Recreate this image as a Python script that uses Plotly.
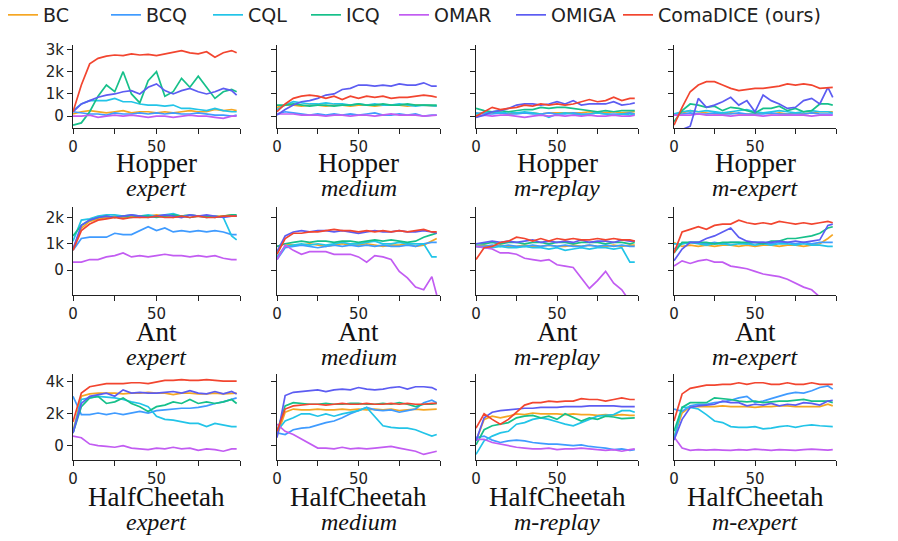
import plotly.graph_objects as go

# training steps (x) shared by every panel
STEPS = [0, 5, 10, 15, 20, 25, 30, 35, 40, 45, 50, 55, 60, 65, 70, 75, 80, 85, 90, 95, 98]

METHODS = ["BC", "BCQ", "CQL", "ICQ", "OMAR", "OMIGA", "ComaDICE (ours)"]
COLORS = ["#f5a623", "#3f9bff", "#22c4e8", "#16c08a", "#c25cf2", "#5c5cf2", "#f2452f"]

ENVS = ["Hopper", "Ant", "HalfCheetah"]
DATASETS = ["expert", "medium", "m-replay", "m-expert"]

# returns in thousands
# ---------------- Hopper ----------------
hop_exp_BC = [0.1,0.2,0.25,0.2,0.15,0.2,0.25,0.15,0.2,0.2,0.15,0.2,0.15,0.2,0.25,0.2,0.2,0.3,0.25,0.3,0.25]
hop_exp_BCQ = [0.2,0.15,0.1,0.1,0.05,0.15,0.1,0.1,0.15,0.1,0.15,0.1,0.15,0.1,0.1,0.15,0.1,0.05,0.05,0.0,0.05]
hop_exp_CQL = [0.25,0.55,0.7,0.7,0.7,0.8,0.65,0.65,0.55,0.5,0.5,0.45,0.5,0.35,0.35,0.3,0.25,0.35,0.25,0.2,0.2]
hop_exp_ICQ = [-0.4,-0.3,0.2,0.9,1.4,1.1,2.0,1.0,0.6,1.6,2.0,0.9,1.1,1.7,1.3,1.8,1.3,0.8,1.1,1.2,1.1]
hop_exp_OMAR = [0.0,0.0,0.05,-0.05,0.0,0.05,0.0,0.05,0.0,-0.05,0.0,0.0,-0.05,0.0,0.05,0.0,0.0,-0.05,-0.1,0.0,0.0]
hop_exp_OMIGA = [0.2,0.55,0.7,0.85,0.95,1.0,1.1,1.15,1.0,1.3,1.45,1.15,1.0,1.15,1.25,1.1,1.0,1.1,1.25,1.15,0.95]
hop_exp_COMA = [0.2,1.4,2.35,2.6,2.7,2.75,2.72,2.8,2.75,2.78,2.72,2.8,2.85,2.95,2.85,2.8,2.9,2.65,2.85,2.95,2.85]

hop_med_BC = [0.4,0.5,0.5,0.45,0.5,0.5,0.45,0.5,0.5,0.45,0.5,0.5,0.45,0.5,0.5,0.5,0.45,0.5,0.5,0.45,0.45]
hop_med_BCQ = [0.1,0.2,0.15,0.1,0.05,0.1,0.05,0.1,0.05,0.1,0.05,0.1,0.15,0.05,0.05,0.1,0.05,0.1,0.0,0.05,0.05]
hop_med_CQL = [0.3,0.5,0.65,0.6,0.55,0.55,0.6,0.55,0.55,0.5,0.55,0.5,0.55,0.5,0.5,0.55,0.5,0.45,0.5,0.45,0.45]
hop_med_ICQ = [0.5,0.5,0.55,0.5,0.45,0.5,0.5,0.45,0.5,0.5,0.55,0.5,0.5,0.55,0.5,0.5,0.55,0.5,0.5,0.5,0.5]
hop_med_OMAR = [0.1,0.1,0.1,0.05,0.05,0.05,0.0,0.05,0.05,0.0,0.05,0.05,0.0,0.05,0.1,0.05,0.05,0.05,0.0,0.05,0.05]
hop_med_OMIGA = [0.05,0.3,0.5,0.65,0.7,0.8,0.95,1.0,1.2,1.25,1.4,1.4,1.35,1.4,1.35,1.45,1.4,1.4,1.5,1.35,1.35]
hop_med_COMA = [0.2,0.55,0.8,0.9,0.95,0.9,0.8,0.9,0.75,0.9,0.8,0.9,0.85,0.9,0.8,0.85,0.85,0.9,0.95,0.9,0.85]

hop_rep_BC = [0.1,0.15,0.15,0.15,0.1,0.15,0.15,0.15,0.1,0.15,0.15,0.15,0.15,0.15,0.2,0.15,0.15,0.2,0.15,0.2,0.2]
hop_rep_BCQ = [0.15,0.1,0.1,0.15,0.1,0.1,0.15,0.1,0.1,0.15,0.1,0.1,0.15,0.1,0.1,0.15,0.1,0.1,0.1,0.15,0.1]
hop_rep_CQL = [0.1,0.15,0.2,0.15,0.2,0.15,0.2,0.15,0.1,-0.05,0.1,0.15,0.1,0.05,0.1,0.15,0.1,0.05,0.1,0.05,0.1]
hop_rep_ICQ = [0.35,0.25,0.2,0.25,0.2,0.25,0.3,0.3,0.4,0.35,0.4,0.4,0.35,0.3,0.25,0.2,0.25,0.2,0.25,0.25,0.25]
hop_rep_OMAR = [0.0,0.05,0.0,0.05,0.05,0.0,-0.05,0.0,0.05,0.0,0.05,0.0,0.05,0.0,0.05,0.0,0.0,0.05,0.0,0.0,0.05]
hop_rep_OMIGA = [-0.05,0.05,0.2,0.25,0.35,0.5,0.55,0.55,0.5,0.55,0.65,0.55,0.7,0.5,0.55,0.55,0.55,0.65,0.5,0.55,0.6]
hop_rep_COMA = [0.0,0.2,0.4,0.3,0.35,0.4,0.5,0.45,0.55,0.5,0.55,0.5,0.55,0.65,0.75,0.65,0.7,0.85,0.7,0.8,0.8]

hop_mex_BC = [0.05,0.15,0.25,0.2,0.15,0.1,0.1,0.15,0.1,0.1,0.1,0.15,0.1,0.15,0.1,0.15,0.1,0.15,0.2,0.2,0.2]
hop_mex_BCQ = [0.1,0.1,0.15,0.1,0.1,0.15,0.1,0.1,0.15,0.1,0.1,0.1,0.15,0.1,0.1,0.1,0.1,0.15,0.1,0.1,0.1]
hop_mex_CQL = [0.1,0.2,0.25,0.2,0.25,0.2,0.15,0.2,0.25,0.3,0.2,0.15,0.2,0.25,0.2,0.15,0.2,0.25,0.2,0.2,0.15]
hop_mex_ICQ = [-0.25,0.25,0.55,0.5,0.4,0.45,0.25,0.4,0.35,0.25,0.15,0.35,0.35,0.45,0.25,0.35,0.2,0.25,0.55,0.55,0.5]
hop_mex_OMAR = [0.05,0.05,0.05,0.1,0.05,0.05,0.05,0.0,0.05,0.05,0.05,0.0,0.05,0.05,0.05,0.05,0.05,0.0,0.05,0.05,0.05]
hop_mex_OMIGA = [-1.0,-0.6,-0.45,0.8,0.4,0.5,0.65,0.85,0.5,0.7,0.2,0.95,0.7,0.55,0.35,0.4,0.7,0.8,0.55,1.3,0.85]
hop_mex_COMA = [-0.4,0.4,1.1,1.4,1.55,1.55,1.4,1.25,1.15,1.2,1.25,1.25,1.3,1.35,1.45,1.4,1.45,1.4,1.25,1.3,1.3]

# ---------------- Ant ----------------
ant_exp_BC = [0.8,1.6,1.85,1.95,2.0,2.05,2.0,2.05,2.0,2.05,2.1,2.05,2.0,2.05,2.1,2.05,2.0,2.05,2.05,2.1,2.05]
ant_exp_BCQ = [0.75,1.2,1.25,1.25,1.25,1.4,1.35,1.35,1.5,1.65,1.5,1.6,1.45,1.5,1.45,1.5,1.45,1.5,1.45,1.35,1.35]
ant_exp_CQL = [1.1,1.9,1.95,2.05,2.1,2.1,2.05,2.1,2.05,2.1,2.05,2.1,2.15,2.05,2.1,2.05,2.0,2.05,2.0,1.3,1.15]
ant_exp_ICQ = [1.3,1.7,1.9,2.0,2.05,2.0,2.05,2.0,2.05,2.05,2.0,2.05,2.1,2.05,2.0,2.05,2.05,2.0,2.05,2.1,2.1]
ant_exp_OMAR = [0.3,0.3,0.4,0.4,0.5,0.55,0.65,0.5,0.55,0.5,0.55,0.6,0.55,0.55,0.5,0.55,0.5,0.55,0.45,0.4,0.4]
ant_exp_OMIGA = [0.8,1.7,1.9,2.0,2.05,2.0,2.05,2.1,2.05,2.0,2.05,2.1,2.05,2.0,2.1,2.05,2.1,2.05,2.0,2.05,2.05]
ant_exp_COMA = [0.75,1.5,1.75,1.9,1.95,2.0,1.95,2.0,2.0,2.0,2.05,2.0,2.0,2.05,2.0,2.05,2.0,2.0,2.05,2.05,2.05]

ant_med_BC = [0.9,1.0,0.95,0.95,1.0,0.95,0.9,0.95,1.0,0.95,0.95,1.0,0.95,0.9,0.95,0.95,1.0,0.9,0.95,1.1,1.2]
ant_med_BCQ = [0.4,0.85,0.9,0.95,0.9,0.85,0.9,0.95,0.9,0.95,0.9,0.95,0.9,0.95,0.9,0.9,0.95,0.9,1.0,1.05,1.05]
ant_med_CQL = [0.5,0.9,0.95,1.0,0.95,1.0,0.95,1.0,1.05,1.0,1.0,1.05,1.1,1.0,1.0,1.05,1.0,1.0,1.0,0.5,0.5]
ant_med_ICQ = [0.9,1.0,1.05,1.1,1.05,1.1,1.1,1.05,1.1,1.1,1.05,1.1,1.15,1.1,1.15,1.1,1.05,1.1,1.25,1.35,1.4]
ant_med_OMAR = [0.4,0.95,0.75,0.6,0.7,0.7,0.7,0.6,0.6,0.6,0.5,0.3,0.55,0.5,0.4,-0.05,-0.3,-0.65,-0.75,-0.25,-0.95]
ant_med_OMIGA = [0.7,1.3,1.45,1.5,1.45,1.5,1.5,1.45,1.5,1.45,1.4,1.45,1.5,1.45,1.45,1.5,1.45,1.45,1.5,1.45,1.4]
ant_med_COMA = [0.6,1.2,1.4,1.4,1.45,1.45,1.5,1.55,1.5,1.5,1.45,1.5,1.45,1.5,1.45,1.5,1.45,1.5,1.55,1.45,1.45]

ant_rep_BC = [0.9,0.95,0.9,0.95,0.9,0.9,0.95,0.9,0.9,0.95,0.9,0.9,0.95,0.9,0.95,0.9,0.9,0.95,0.9,0.95,0.95]
ant_rep_BCQ = [0.9,0.9,0.95,0.9,0.95,0.9,0.9,0.95,0.9,0.95,0.9,0.95,0.9,0.9,0.95,0.9,0.95,0.9,0.95,0.9,0.9]
ant_rep_CQL = [0.9,0.85,0.85,0.9,0.85,0.85,0.9,0.85,0.85,0.8,0.85,0.75,0.8,0.85,0.8,0.85,0.85,0.8,0.85,0.3,0.3]
ant_rep_ICQ = [1.0,1.0,1.05,1.0,1.05,1.05,1.0,1.05,1.05,1.0,1.05,1.05,1.0,1.05,1.05,1.05,1.0,1.05,1.05,1.0,1.05]
ant_rep_OMAR = [0.9,0.85,0.8,0.65,0.65,0.6,0.45,0.4,0.35,0.4,0.2,0.15,0.1,-0.3,-0.7,-0.4,-0.05,-0.5,-0.75,-1.2,-1.5]
ant_rep_OMIGA = [1.0,1.05,1.1,1.05,1.1,1.05,1.1,1.15,1.05,1.1,1.05,1.1,1.05,1.15,1.05,1.1,1.1,1.05,1.15,1.1,1.1]
ant_rep_COMA = [0.4,0.85,0.9,1.05,1.1,1.25,1.2,1.1,1.2,1.1,1.2,1.15,1.2,1.15,1.15,1.2,1.15,1.2,1.15,1.15,1.1]

ant_mex_BC = [1.05,0.9,0.95,0.9,0.95,0.9,0.95,0.95,0.9,0.95,0.9,0.95,0.95,0.9,0.95,0.95,0.9,0.95,1.0,1.2,1.35]
ant_mex_BCQ = [0.8,1.0,1.05,1.05,1.0,1.05,1.0,1.05,1.05,1.0,1.05,1.05,1.0,1.05,1.05,1.0,1.05,1.0,1.05,1.05,1.05]
ant_mex_CQL = [1.0,1.0,1.05,1.0,0.95,1.0,1.0,0.95,1.0,1.0,0.95,1.0,0.95,1.0,1.0,0.95,1.0,0.95,0.95,0.9,0.9]
ant_mex_ICQ = [0.65,1.05,1.05,1.05,1.05,1.0,1.05,1.05,1.05,1.05,1.05,1.0,1.1,1.1,1.2,1.2,1.25,1.3,1.4,1.6,1.65]
ant_mex_OMAR = [0.15,0.35,0.25,0.35,0.4,0.3,0.3,0.15,0.1,0.05,-0.05,-0.15,-0.2,-0.25,-0.35,-0.5,-0.65,-0.75,-1.0,-1.3,-1.5]
ant_mex_OMIGA = [0.35,0.8,1.05,1.05,1.2,1.3,1.45,1.6,1.25,1.1,1.05,1.05,1.05,1.1,1.05,1.1,1.05,1.1,1.15,1.7,1.75]
ant_mex_COMA = [0.65,1.45,1.55,1.65,1.55,1.7,1.75,1.75,1.9,1.8,1.75,1.8,1.75,1.85,1.8,1.75,1.8,1.75,1.8,1.85,1.8]

# ---------------- HalfCheetah ----------------
hc_exp_BC = [0.9,3.1,3.25,3.3,3.3,3.3,3.25,3.3,3.3,3.35,3.3,3.3,3.2,3.3,3.3,3.25,3.25,3.3,3.25,3.3,3.3]
hc_exp_BCQ = [3.1,1.95,1.95,2.05,1.95,2.05,1.95,2.05,2.15,2.05,2.2,2.25,2.3,2.35,2.35,2.4,2.5,2.65,2.75,2.9,3.0]
hc_exp_CQL = [0.8,2.9,3.0,3.1,3.05,3.0,2.9,2.75,2.65,2.45,1.85,1.65,1.6,1.5,1.4,1.4,1.2,1.4,1.3,1.2,1.2]
hc_exp_ICQ = [0.8,2.45,3.0,3.1,2.65,2.75,3.0,2.65,2.45,2.15,2.45,2.55,2.75,2.65,2.9,2.65,2.75,2.65,2.75,2.9,2.65]
hc_exp_OMAR = [0.6,0.5,0.1,0.0,-0.05,-0.1,0.0,-0.15,-0.2,-0.25,-0.15,-0.2,-0.1,-0.2,-0.15,-0.3,-0.2,-0.25,-0.35,-0.2,-0.2]
hc_exp_OMIGA = [0.8,2.65,3.1,3.2,3.3,3.1,3.5,3.3,3.35,3.3,3.3,3.35,3.4,3.3,3.45,3.3,3.25,3.4,3.25,3.4,3.25]
hc_exp_COMA = [1.5,3.3,3.7,3.8,3.9,3.9,3.9,3.95,3.95,3.9,4.0,4.1,4.1,4.15,4.1,4.1,4.15,4.1,4.05,4.05,4.05]

hc_med_BC = [0.6,2.1,2.3,2.25,2.25,2.3,2.25,2.25,2.3,2.25,2.3,2.25,2.3,2.25,2.3,2.2,2.25,2.3,2.25,2.3,2.3]
hc_med_BCQ = [0.8,0.7,1.0,1.1,1.15,1.3,1.45,1.55,1.75,2.0,2.2,2.4,2.25,2.2,2.25,2.1,2.2,2.3,2.7,2.85,2.7]
hc_med_CQL = [0.9,1.55,1.75,2.0,2.0,1.85,2.0,1.85,2.0,2.1,2.2,2.4,1.85,1.25,1.15,1.1,1.1,1.0,0.8,0.6,0.7]
hc_med_ICQ = [0.9,2.5,2.7,2.65,2.6,2.6,2.65,2.6,2.6,2.65,2.65,2.6,2.6,2.65,2.6,2.7,2.6,2.45,2.6,2.6,2.65]
hc_med_OMAR = [1.35,0.9,0.7,0.4,0.15,-0.15,-0.15,-0.2,-0.1,-0.2,-0.15,-0.2,-0.15,-0.1,-0.05,-0.15,-0.25,-0.35,-0.55,-0.4,-0.35]
hc_med_OMIGA = [0.5,3.15,3.35,3.4,3.45,3.5,3.4,3.5,3.55,3.5,3.65,3.55,3.5,3.55,3.65,3.7,3.55,3.7,3.7,3.65,3.5]
hc_med_COMA = [0.9,2.3,2.5,2.55,2.6,2.6,2.55,2.6,2.65,2.6,2.6,2.65,2.6,2.6,2.65,2.6,2.65,2.6,2.6,2.65,2.65]

hc_rep_BC = [0.3,1.65,1.85,1.75,1.85,2.0,1.95,2.05,2.0,2.0,2.0,1.95,2.0,1.95,1.95,1.9,1.95,1.9,1.95,1.9,1.9]
hc_rep_BCQ = [0.5,0.6,0.35,0.2,0.3,0.35,0.3,0.2,0.15,0.1,0.1,0.05,0.0,0.05,-0.05,-0.1,-0.15,-0.25,-0.2,-0.3,-0.25]
hc_rep_CQL = [-0.55,0.3,0.6,0.8,0.9,1.35,1.45,1.65,1.75,1.65,1.5,1.35,1.25,1.45,1.65,1.85,1.9,1.95,2.2,2.2,2.1]
hc_rep_ICQ = [0.05,1.0,1.25,1.35,1.45,1.75,1.85,1.9,1.75,1.85,1.65,2.0,1.8,1.55,1.75,1.65,1.85,1.8,1.7,1.75,1.75]
hc_rep_OMAR = [0.4,0.4,0.2,0.1,0.0,-0.1,-0.15,-0.2,-0.2,-0.15,-0.25,-0.2,-0.2,-0.15,-0.2,-0.25,-0.3,-0.25,-0.35,-0.25,-0.2]
hc_rep_OMIGA = [0.3,1.75,2.1,2.2,2.25,2.3,2.35,2.35,2.4,2.4,2.4,2.45,2.45,2.45,2.5,2.5,2.5,2.5,2.45,2.45,2.45]
hc_rep_COMA = [1.1,2.0,1.65,1.35,1.65,2.1,2.55,2.7,2.7,2.8,2.75,2.8,2.8,2.95,2.9,2.9,2.8,2.9,3.0,2.9,2.9]

hc_mex_BC = [0.55,2.05,2.45,2.45,2.45,2.45,2.5,2.45,2.45,2.45,2.4,2.45,2.45,2.5,2.5,2.45,2.45,2.45,2.45,2.6,2.5]
hc_mex_BCQ = [2.3,2.15,2.5,2.6,2.6,2.7,2.75,2.85,3.0,3.1,2.7,2.8,2.95,3.1,3.25,3.35,3.3,3.45,3.65,3.75,3.55]
hc_mex_CQL = [0.45,2.4,2.4,2.3,1.95,1.55,1.45,1.2,1.15,1.15,1.2,1.05,1.1,1.2,1.25,1.15,1.25,1.3,1.25,1.2,1.2]
hc_mex_ICQ = [0.9,2.4,2.7,2.7,2.7,3.0,2.95,2.9,2.8,2.75,2.8,2.7,2.75,2.8,2.8,2.85,2.9,2.8,2.8,2.8,2.7]
hc_mex_OMAR = [0.55,-0.15,-0.3,-0.25,-0.28,-0.25,-0.28,-0.3,-0.25,-0.28,-0.22,-0.28,-0.3,-0.25,-0.28,-0.3,-0.25,-0.22,-0.25,-0.28,-0.25]
hc_mex_OMIGA = [0.35,1.65,2.4,2.5,2.55,2.6,2.8,2.7,2.7,2.5,2.6,2.55,2.65,2.5,2.6,2.55,2.7,2.65,2.55,2.8,2.85]
hc_mex_COMA = [1.55,3.25,3.6,3.7,3.8,3.8,3.85,3.85,3.95,3.85,3.95,3.95,3.85,3.85,3.95,3.85,3.85,3.95,3.85,3.85,3.85]

PANELS = [
    [hop_exp_BC, hop_exp_BCQ, hop_exp_CQL, hop_exp_ICQ, hop_exp_OMAR, hop_exp_OMIGA, hop_exp_COMA],
    [hop_med_BC, hop_med_BCQ, hop_med_CQL, hop_med_ICQ, hop_med_OMAR, hop_med_OMIGA, hop_med_COMA],
    [hop_rep_BC, hop_rep_BCQ, hop_rep_CQL, hop_rep_ICQ, hop_rep_OMAR, hop_rep_OMIGA, hop_rep_COMA],
    [hop_mex_BC, hop_mex_BCQ, hop_mex_CQL, hop_mex_ICQ, hop_mex_OMAR, hop_mex_OMIGA, hop_mex_COMA],
    [ant_exp_BC, ant_exp_BCQ, ant_exp_CQL, ant_exp_ICQ, ant_exp_OMAR, ant_exp_OMIGA, ant_exp_COMA],
    [ant_med_BC, ant_med_BCQ, ant_med_CQL, ant_med_ICQ, ant_med_OMAR, ant_med_OMIGA, ant_med_COMA],
    [ant_rep_BC, ant_rep_BCQ, ant_rep_CQL, ant_rep_ICQ, ant_rep_OMAR, ant_rep_OMIGA, ant_rep_COMA],
    [ant_mex_BC, ant_mex_BCQ, ant_mex_CQL, ant_mex_ICQ, ant_mex_OMAR, ant_mex_OMIGA, ant_mex_COMA],
    [hc_exp_BC, hc_exp_BCQ, hc_exp_CQL, hc_exp_ICQ, hc_exp_OMAR, hc_exp_OMIGA, hc_exp_COMA],
    [hc_med_BC, hc_med_BCQ, hc_med_CQL, hc_med_ICQ, hc_med_OMAR, hc_med_OMIGA, hc_med_COMA],
    [hc_rep_BC, hc_rep_BCQ, hc_rep_CQL, hc_rep_ICQ, hc_rep_OMAR, hc_rep_OMIGA, hc_rep_COMA],
    [hc_mex_BC, hc_mex_BCQ, hc_mex_CQL, hc_mex_ICQ, hc_mex_OMAR, hc_mex_OMIGA, hc_mex_COMA],
]

Y_TICKS = [[0, 1, 2, 3], [0, 1, 2], [0, 2, 4]]
Y_TICKTEXT = [["0", "1k", "2k", "3k"], ["0", "1k", "2k"], ["0", "2k", "4k"]]
Y_RANGES = [[-0.53, 3.2], [-0.95, 2.4], [-0.9, 4.5]]

# ---------- layout geometry (pixels in the page; the page body adds 8px) ----------
W, H = 898, 541
OFF = 8
COLS_PX = [(73, 240), (277, 440), (476, 638), (674, 836)]
ROWS_PX = [(45, 128), (207, 295), (374, 460)]
LABEL_Y = [(163, 188), (332, 357), (497, 522)]
LEGEND_TEXT_X = [45, 148, 250, 348, 436, 553, 660]
LEGEND_Y = 15


def px_x(x):
    return (x - OFF) / W


def px_y(y):
    return 1 - (y - OFF) / H


fig = go.Figure()
layout = {}
annotations = []

for r in range(3):
    for c in range(4):
        k = r * 4 + c + 1
        xa = "x" if k == 1 else f"x{k}"
        ya = "y" if k == 1 else f"y{k}"
        series = PANELS[r * 4 + c]
        for m, (name, col, vals) in enumerate(zip(METHODS, COLORS, series)):
            fig.add_trace(go.Scatter(
                x=STEPS, y=vals, mode="lines", name=name,
                line=dict(color=col, width=1.7),
                xaxis=xa, yaxis=ya, legendgroup=name,
                legend="legend" if m == 0 else f"legend{m + 1}",
                showlegend=(k == 1),
            ))
        x0, x1 = COLS_PX[c]
        y0, y1 = ROWS_PX[r]
        layout["xaxis" if k == 1 else f"xaxis{k}"] = dict(
            domain=[px_x(x0), px_x(x1)], anchor=ya, range=[0, 100],
            tickvals=[0, 25, 50, 75, 100], ticktext=["0", "", "50", "", ""],
            ticks="outside", ticklen=5, tickwidth=1, tickcolor="#222",
            showline=True, linecolor="#222", linewidth=1.2,
            showgrid=False, zeroline=False,
            tickfont=dict(family="DejaVu Sans", size=15, color="#222"),
        )
        layout["yaxis" if k == 1 else f"yaxis{k}"] = dict(
            domain=[px_y(y1), px_y(y0)], anchor=xa, range=Y_RANGES[r],
            tickvals=Y_TICKS[r], ticktext=Y_TICKTEXT[r], showticklabels=(c == 0),
            ticks="outside", ticklen=5, tickwidth=1, tickcolor="#222",
            showline=True, linecolor="#222", linewidth=1.2,
            showgrid=False, zeroline=False,
            tickfont=dict(family="DejaVu Sans", size=15, color="#222"),
        )
        cx = px_x((x0 + x1) / 2)
        ly1, ly2 = LABEL_Y[r]
        annotations.append(dict(
            text=ENVS[r], x=cx, y=px_y(ly1), xref="paper", yref="paper",
            xanchor="center", yanchor="middle", showarrow=False,
            font=dict(family="Liberation Serif", size=27, color="#111"),
        ))
        annotations.append(dict(
            text=f"<i>{DATASETS[c]}</i>", x=cx, y=px_y(ly2), xref="paper", yref="paper",
            xanchor="center", yanchor="middle", showarrow=False,
            font=dict(family="Liberation Serif", size=24, color="#111"),
        ))

for i, tx in enumerate(LEGEND_TEXT_X):
    key = "legend" if i == 0 else f"legend{i + 1}"
    layout[key] = dict(
        orientation="h", x=px_x(tx - 42), y=px_y(LEGEND_Y),
        xanchor="left", yanchor="middle",
        font=dict(family="DejaVu Sans", size=19, color="#222"),
        bgcolor="rgba(0,0,0,0)", borderwidth=0,
    )

fig.update_layout(
    width=W, height=H,
    margin=dict(l=0, r=0, t=0, b=0, autoexpand=False),
    paper_bgcolor="white", plot_bgcolor="white",
    annotations=annotations,
    **layout,
)

fig.write_html("out.html")
